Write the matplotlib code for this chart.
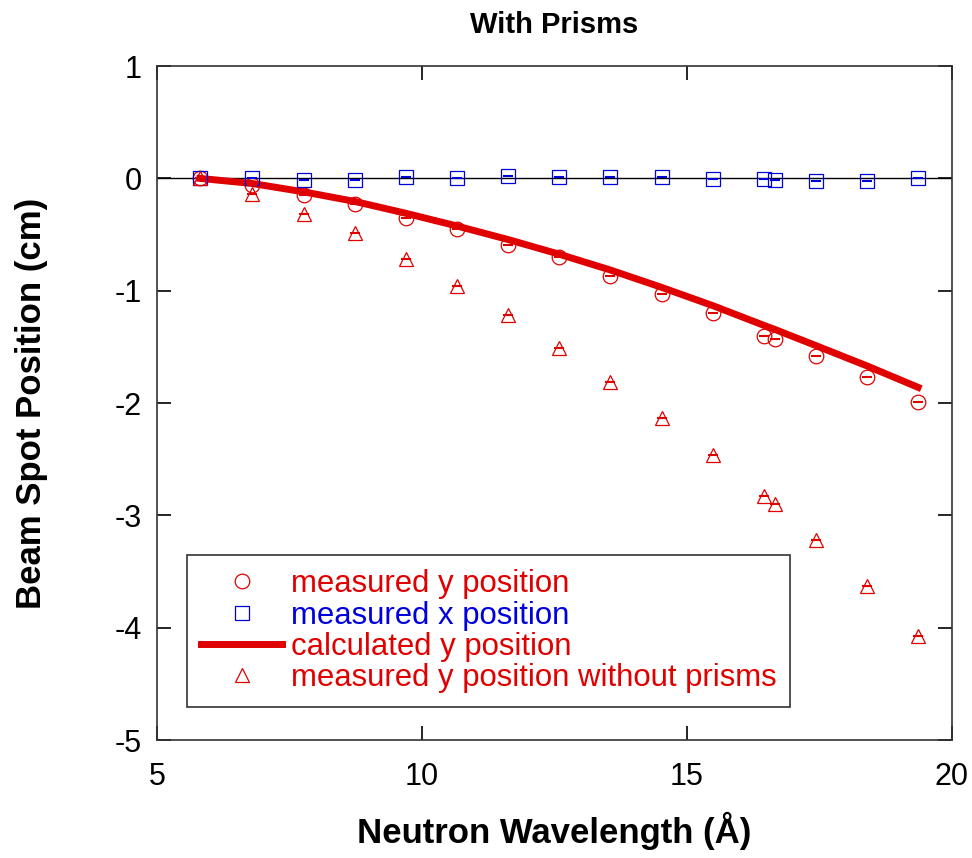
import matplotlib
matplotlib.use("Agg")
import matplotlib.pyplot as plt

plt.rcParams["font.family"] = ["Liberation Sans", "DejaVu Sans"]
plt.rcParams["axes.unicode_minus"] = False

# neutron wavelength (Angstrom)
wavelength = [5.81, 6.79, 7.77, 8.73, 9.69, 10.67, 11.63, 12.59, 13.55,
              14.52, 15.50, 16.46, 16.66, 17.44, 18.40, 19.36]
# beam spot positions (cm)
y_measured = [0.0, -0.06, -0.15, -0.23, -0.35, -0.45, -0.59, -0.70, -0.87,
              -1.03, -1.20, -1.40, -1.43, -1.58, -1.77, -1.99]
x_measured = [0.0, 0.0, -0.01, -0.015, 0.01, 0.0, 0.02, 0.01, 0.01,
              0.015, -0.005, -0.005, -0.015, -0.025, -0.02, 0.005]
y_calculated = [0.0, -0.045, -0.12, -0.205, -0.31, -0.425, -0.545, -0.675, -0.815,
                -0.97, -1.135, -1.31, -1.345, -1.49, -1.67, -1.86]
y_no_prisms = [0.0, -0.14, -0.32, -0.49, -0.72, -0.96, -1.22, -1.51, -1.81,
               -2.13, -2.46, -2.83, -2.90, -3.22, -3.63, -4.07]

red = "#e00000"
blue = "#0000dd"

fig = plt.figure(figsize=(9.72, 8.58), dpi=100)
ax = fig.add_axes([0.1615, 0.1375, 0.8179, 0.7855])

ax.axhline(0, color="black", lw=1.0, zorder=1)

ax.plot(wavelength, y_calculated, color=red, lw=5, zorder=2,
        label="calculated y position")
ax.plot(wavelength, y_measured, ls="none", marker="o", ms=10.5, mfc="none",
        mec=red, mew=0.9, zorder=3, label="measured y position")
ax.plot(wavelength, x_measured, ls="none", marker="s", ms=10.5, mfc="none",
        mec=blue, mew=0.9, zorder=3, label="measured x position")
ax.plot(wavelength, y_no_prisms, ls="none", marker="^", ms=10.5, mfc="none",
        mec=red, mew=0.9, zorder=3, label="measured y position without prisms")

# small horizontal dashes inside markers
for ys, c in [(y_measured, red), (x_measured, blue), (y_no_prisms, red)]:
    ax.plot(wavelength, ys, ls="none", marker="_", ms=7, mec=c, mew=1.5, zorder=4)

ax.set_xlim(5, 20)
ax.set_ylim(-5, 1)
ax.set_xticks([5, 10, 15, 20])
ax.set_yticks([-5, -4, -3, -2, -1, 0, 1])
ax.tick_params(direction="in", length=10, width=1.2, top=True, right=True,
               labelsize=22, pad=11)
ax.tick_params(axis="x", pad=16)
for s in ax.spines.values():
    s.set_linewidth(1.2)
    s.set_color("#333333")

ax.set_title("With Prisms", fontsize=21, fontweight="bold", pad=24)
ax.set_xlabel("Neutron Wavelength (Å)", fontsize=25, fontweight="bold", labelpad=14)
ax.set_ylabel("Beam Spot Position (cm)", fontsize=25, fontweight="bold", labelpad=48)

handles, labels = ax.get_legend_handles_labels()
order = [1, 2, 0, 3]
leg = ax.legend([handles[i] for i in order], [labels[i] for i in order],
                loc="lower left", bbox_to_anchor=(0.038, 0.049), fontsize=22.4,
                frameon=True, fancybox=False, edgecolor="black",
                handlelength=2.6, handletextpad=0.28, labelspacing=0.04,
                borderpad=0.45, borderaxespad=0)
leg.get_frame().set_linewidth(1.2)
for t, c in zip(leg.get_texts(), [red, blue, red, red]):
    t.set_color(c)

fig.savefig("out.png", dpi=100)
